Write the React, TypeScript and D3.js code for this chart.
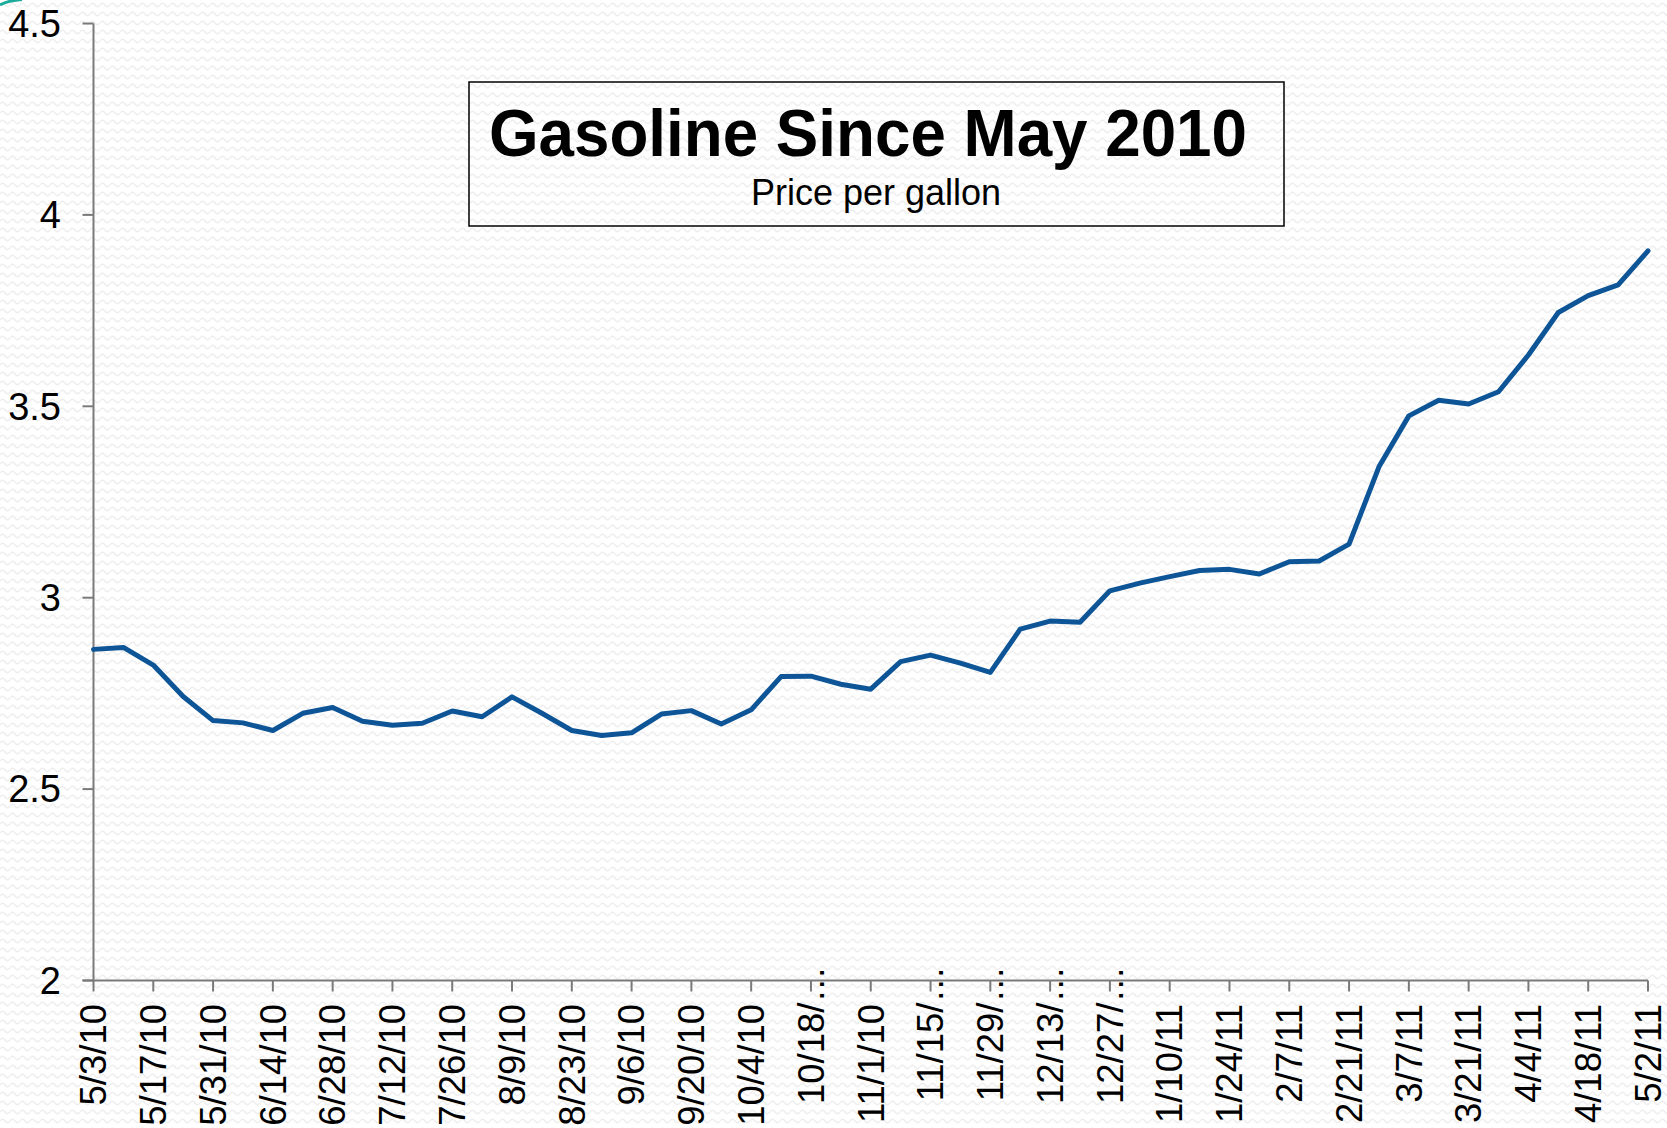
import React from "react";
import * as d3 from "d3";

// Weekly dates, 5/3/10 .. 5/2/11 (53 weeks)
const startDate = "2010-05-03";
const weekCount = 53;

// Price per gallon
const prices: number[] = [
  2.865, 2.870, 2.824, 2.742, 2.679, 2.673, 2.653, 2.698, 2.713, 2.677,
  2.667, 2.672, 2.704, 2.689, 2.741, 2.698, 2.653, 2.640, 2.647, 2.696,
  2.705, 2.670, 2.707, 2.794, 2.795, 2.774, 2.761, 2.833, 2.850, 2.829,
  2.805, 2.918, 2.939, 2.936, 3.018, 3.038, 3.055, 3.071, 3.074, 3.062,
  3.094, 3.096, 3.140, 3.342, 3.475, 3.516, 3.506, 3.538, 3.634, 3.745,
  3.789, 3.817, 3.906,
];

// Tick labels, one every two weeks (as printed, with truncation)
const xTickLabels: string[] = [
  "5/3/10", "5/17/10", "5/31/10", "6/14/10", "6/28/10", "7/12/10", "7/26/10",
  "8/9/10", "8/23/10", "9/6/10", "9/20/10", "10/4/10", "10/18/…", "11/1/10",
  "11/15/…", "11/29/…", "12/13/…", "12/27/…", "1/10/11", "1/24/11", "2/7/11",
  "2/21/11", "3/7/11", "3/21/11", "4/4/11", "4/18/11", "5/2/11",
];

const yTicks: number[] = [2, 2.5, 3, 3.5, 4, 4.5];
const yDomain: [number, number] = [2, 4.5];

const titleText = "Gasoline Since May 2010";
const subtitleText = "Price per gallon";

const W = 1667;
const H = 1128;
const M = { left: 93.5, right: 1648, top: 23.5, bottom: 980.5 };
const FONT = "'Liberation Sans', Arial, sans-serif";
const AXIS = "#7a7a7a";

export default function App() {
  const parse = d3.timeParse("%Y-%m-%d");
  const d0 = parse(startDate) as Date;
  const dates = d3.range(weekCount).map((i) => d3.timeWeek.offset(d0, i));
  const data = dates.map((d, i) => ({ d, v: prices[i] }));

  const x = d3
    .scaleTime()
    .domain([dates[0], dates[dates.length - 1]])
    .range([M.left, M.right]);
  const y = d3.scaleLinear().domain(yDomain).range([M.bottom, M.top]);

  const line = d3
    .line<{ d: Date; v: number }>()
    .x((p) => x(p.d))
    .y((p) => y(p.v));

  const tickDates = dates.filter((_, i) => i % 2 === 0);

  return (
    <svg
      width={W}
      height={H}
      viewBox={`0 0 ${W} ${H}`}
      style={{ position: "absolute", left: 0, top: 0, display: "block" }}
    >
      <defs>
        <pattern id="bgwave" width="10" height="9" patternUnits="userSpaceOnUse">
          <rect width="10" height="9" fill="#ffffff" />
          <path d="M0,5 Q2.5,1.5 5,5 T10,5" fill="none" stroke="#eeeeee" strokeWidth="1.4" />
        </pattern>
      </defs>
      <rect x={0} y={0} width={W} height={H} fill="url(#bgwave)" />
      <path d="M0,5 Q8,0.5 22,-0.5" fill="none" stroke="#1aab9b" strokeWidth={3} />

      {/* Y axis */}
      <line x1={M.left} x2={M.left} y1={M.top} y2={M.bottom} stroke={AXIS} strokeWidth={2} />
      {yTicks.map((t) => (
        <g key={t}>
          <line x1={M.left - 11} x2={M.left} y1={y(t)} y2={y(t)} stroke={AXIS} strokeWidth={2} />
          <text
            x={61}
            y={y(t)}
            dy="0.35em"
            textAnchor="end"
            fontFamily={FONT}
            fontSize={38}
            fill="#000"
          >
            {String(t)}
          </text>
        </g>
      ))}

      {/* X axis */}
      <line x1={M.left - 11} x2={M.right} y1={M.bottom} y2={M.bottom} stroke={AXIS} strokeWidth={2} />
      {tickDates.map((d, i) => {
        const tx = x(d);
        const lab = xTickLabels[i];
        const truncated = lab.endsWith("…");
        const ty = truncated ? 966 : 1004;
        return (
          <g key={i}>
            <line x1={tx} x2={tx} y1={M.bottom} y2={M.bottom + 11} stroke={AXIS} strokeWidth={2} />
            <text
              x={tx}
              y={ty}
              dy="0.35em"
              textAnchor="end"
              transform={`rotate(-90, ${tx}, ${ty})`}
              fontFamily={FONT}
              fontSize={36.5}
              fill="#000"
            >
              {lab}
            </text>
          </g>
        );
      })}

      {/* Series line */}
      <path
        d={line(data) || ""}
        fill="none"
        stroke="#0d5597"
        strokeWidth={5}
        strokeLinejoin="round"
        strokeLinecap="round"
      />

      {/* Title box */}
      <rect x={469} y={82} width={815} height={144} fill="#ffffff" fillOpacity={0} stroke="#000" strokeWidth={1.5} />
      <text
        x={868}
        y={156}
        textAnchor="middle"
        fontFamily={FONT}
        fontWeight="bold"
        fontSize={66}
        textLength={758}
        lengthAdjust="spacingAndGlyphs"
        fill="#000"
      >
        {titleText}
      </text>
      <text x={876} y={205} textAnchor="middle" fontFamily={FONT} fontSize={36} fill="#000">
        {subtitleText}
      </text>
    </svg>
  );
}
